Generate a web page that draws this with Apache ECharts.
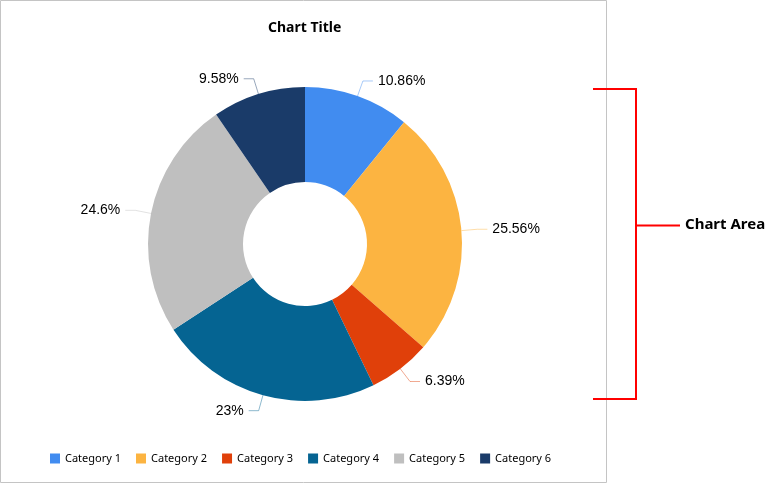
<!DOCTYPE html>
<html>
<head>
<meta charset="utf-8">
<script src="https://cdn.jsdelivr.net/npm/echarts@6/dist/echarts.min.js"></script>
<style>html,body{margin:0;padding:0;background:#fff}#c{width:771px;height:484px}</style>
</head>
<body>
<div id="c"></div>
<script>
const categories = ['Category 1','Category 2','Category 3','Category 4','Category 5','Category 6'];
const values = [10.86, 25.56, 6.39, 23, 24.6, 9.58];
const colors = ['#418CF0','#FCB441','#E0400A','#056492','#BFBFBF','#1A3B69'];

const chart = echarts.init(document.getElementById('c'), null, {renderer:'canvas'});
chart.setOption({
  animation: false,
  color: colors,
  title: {
    text: 'Chart Title', left: 263, top: 16,
    textStyle: {fontFamily: 'Noto Sans', fontSize: 14, fontWeight: 'bold', color: '#000'}
  },
  legend: {
    bottom: 15, left: 45, itemWidth: 10, itemHeight: 10, itemGap: 15,
    icon: 'rect',
    textStyle: {fontFamily: 'Noto Sans', fontSize: 11, color: '#000'},
    data: categories
  },
  series: [{
    type: 'pie',
    center: [305, 244],
    radius: [62, 157],
    startAngle: 90,
    clockwise: true,
    avoidLabelOverlap: false,
    label: {
      show: true,
      formatter: p => p.value + '%',
      fontFamily: 'Liberation Sans', fontSize: 14, color: '#000'
    },
    labelLine: {show: true, length: 16, length2: 10, lineStyle: {opacity: 0.45, width: 1}},
    data: categories.map((c, i) => ({name: c, value: values[i]}))
  }],
  graphic: [
    {type: 'rect', shape: {x: 0.5, y: 0.5, width: 606, height: 482}, style: {fill: 'none', stroke: '#c4c4c4', lineWidth: 1}},
    {type: 'polyline', shape: {points: [[593, 89], [636, 89], [636, 399], [593, 399]]}, style: {fill: 'none', stroke: '#ff0000', lineWidth: 2}},
    {type: 'line', shape: {x1: 636, y1: 225.5, x2: 680, y2: 225.5}, style: {stroke: '#ff0000', lineWidth: 2}},
    {type: 'text', x: 685, y: 225, style: {text: 'Chart Area', fontFamily: 'Noto Sans', fontSize: 15, fontWeight: 'bold', fill: '#000', verticalAlign: 'middle'}}
  ]
});
</script>
</body>
</html>
